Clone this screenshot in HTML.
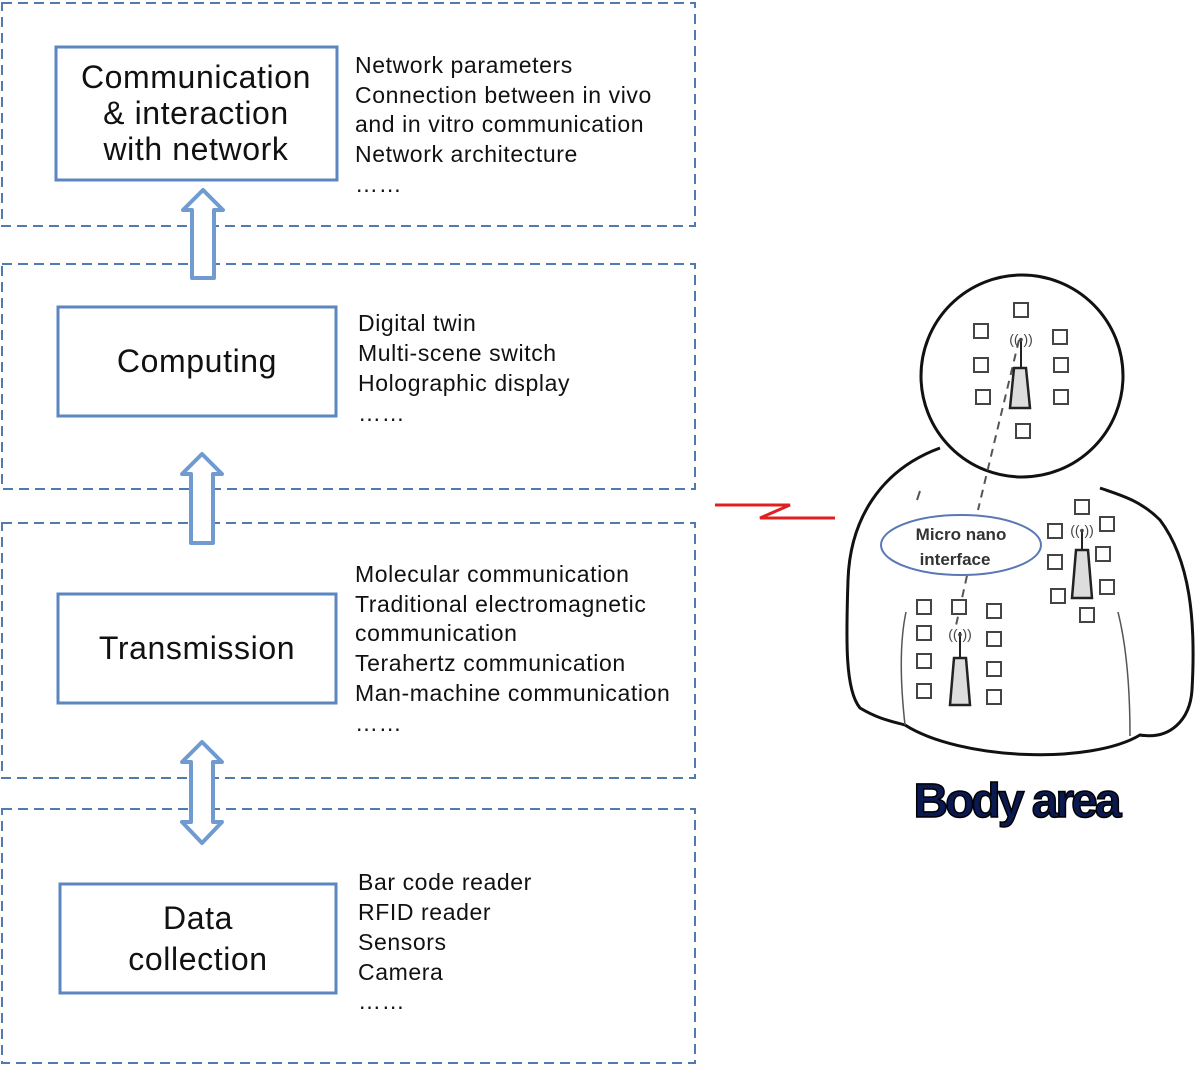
<!DOCTYPE html>
<html><head><meta charset="utf-8"><style>
body{margin:0;background:#fff}
svg text{font-family:"Liberation Sans",sans-serif}
</style></head><body>
<svg width="1200" height="1069" viewBox="0 0 1200 1069" xmlns="http://www.w3.org/2000/svg">
<g fill="none" stroke="#4f7bb0" stroke-width="2" stroke-dasharray="10,6">
<rect x="2" y="3" width="693" height="223"/>
<rect x="2" y="264" width="693" height="225"/>
<rect x="2" y="523" width="693" height="255"/>
<rect x="2" y="809" width="693" height="254"/>
</g>
<g fill="#fff" stroke="#5b86be" stroke-width="3">
<rect x="56" y="47" width="281" height="133"/>
<rect x="58" y="307" width="278" height="109"/>
<rect x="58" y="594" width="278" height="109"/>
<rect x="60" y="884" width="276" height="109"/>
</g>
<g fill="#fff" stroke="#6f9bd1" stroke-width="4" stroke-linejoin="round">
<path d="M192,278 L192,210 L183,210 L203,190 L223,210 L214,210 L214,278 Z"/>
<path d="M191,543 L191,474 L182,474 L202,454 L222,474 L213,474 L213,543 Z"/>
<path d="M202,742 L222,762 L213,762 L213,822 L222,822 L202,843 L182,822 L191,822 L191,762 L182,762 Z"/>
</g>
<g font-size="32" fill="#111" text-anchor="middle" letter-spacing="0.6">
<text x="196" y="88">Communication</text>
<text x="196" y="124">&amp; interaction</text>
<text x="196" y="160">with network</text>
<text x="197" y="372">Computing</text>
<text x="197" y="659">Transmission</text>
<text x="198" y="929">Data</text>
<text x="198" y="970">collection</text>
</g>
<g font-size="23" fill="#111" letter-spacing="0.6">
<text x="355" y="73">Network parameters</text>
<text x="355" y="103">Connection between in vivo</text>
<text x="355" y="132">and in vitro communication</text>
<text x="355" y="162">Network architecture</text>
<text x="355" y="192">……</text>
<text x="358" y="331">Digital twin</text>
<text x="358" y="361">Multi-scene switch</text>
<text x="358" y="391">Holographic display</text>
<text x="358" y="421">……</text>
<text x="355" y="582">Molecular communication</text>
<text x="355" y="612">Traditional electromagnetic</text>
<text x="355" y="641">communication</text>
<text x="355" y="671">Terahertz communication</text>
<text x="355" y="701">Man-machine communication</text>
<text x="355" y="731">……</text>
<text x="358" y="890">Bar code reader</text>
<text x="358" y="920">RFID reader</text>
<text x="358" y="950">Sensors</text>
<text x="358" y="980">Camera</text>
<text x="358" y="1009">……</text>
</g>
<!-- body -->
<g fill="#fff" stroke="#111" stroke-width="3">
<path d="M940,448 C880,470 850,520 848,580 C846,640 845,690 860,708 C880,720 895,722 905,725 C960,760 1090,765 1140,735 C1170,740 1190,720 1192,690 C1196,620 1190,560 1160,520 C1140,500 1120,495 1100,488"/>
<circle cx="1022" cy="376" r="101"/>
</g>
<g stroke="#555" stroke-width="1.5" fill="none">
<path d="M905,725 C900,680 900,640 906,612"/>
<path d="M1130,736 C1130,680 1125,640 1118,612"/>
</g>
<path d="M1019,340 L978,510 M970,562 L955,630" stroke="#555" stroke-width="2" stroke-dasharray="8,6"/>
<path d="M920,491 L917,500" stroke="#555" stroke-width="2"/>
<ellipse cx="961" cy="545" rx="80" ry="30" fill="#fff" stroke="#5a78b5" stroke-width="2"/>
<text x="961" y="540" font-size="17" font-weight="bold" text-anchor="middle" fill="#333">Micro nano</text>
<text x="955" y="565" font-size="17" font-weight="bold" text-anchor="middle" fill="#333">interface</text>
<g fill="#fff" stroke="#444" stroke-width="2">
<rect x="1014" y="303" width="14" height="14"/><rect x="974" y="324" width="14" height="14"/><rect x="974" y="358" width="14" height="14"/><rect x="976" y="390" width="14" height="14"/>
<rect x="1053" y="330" width="14" height="14"/><rect x="1054" y="358" width="14" height="14"/><rect x="1054" y="390" width="14" height="14"/><rect x="1016" y="424" width="14" height="14"/>
<rect x="1075" y="500" width="14" height="14"/><rect x="1048" y="524" width="14" height="14"/><rect x="1100" y="517" width="14" height="14"/><rect x="1048" y="555" width="14" height="14"/><rect x="1096" y="547" width="14" height="14"/><rect x="1051" y="589" width="14" height="14"/><rect x="1100" y="580" width="14" height="14"/><rect x="1080" y="608" width="14" height="14"/>
<rect x="917" y="600" width="14" height="14"/><rect x="952" y="600" width="14" height="14"/><rect x="987" y="604" width="14" height="14"/><rect x="917" y="626" width="14" height="14"/><rect x="987" y="632" width="14" height="14"/><rect x="917" y="654" width="14" height="14"/><rect x="987" y="662" width="14" height="14"/><rect x="917" y="684" width="14" height="14"/><rect x="987" y="690" width="14" height="14"/>
</g>
<g fill="#ddd" stroke="#222" stroke-width="2.5">
<path d="M1014,368 L1026,368 L1030,408 L1010,408 Z"/>
<path d="M1076,550 L1088,550 L1092,598 L1072,598 Z"/>
<path d="M954,658 L966,658 L970,705 L950,705 Z"/>
</g>
<g stroke="#222" stroke-width="2"><path d="M1021,338 V368 M1082,530 V550 M960,632 V658"/></g>
<text x="1021" y="344" font-size="14" text-anchor="middle" fill="#444">((•))</text>
<text x="1082" y="535" font-size="14" text-anchor="middle" fill="#444">((•))</text>
<text x="960" y="639" font-size="14" text-anchor="middle" fill="#444">((•))</text>
<path d="M715,505 L790,505 L760,518 L835,518" fill="none" stroke="#e02020" stroke-width="3"/>
<text x="1016" y="817" font-size="48" font-weight="bold" text-anchor="middle" fill="#0a1a50" letter-spacing="-3" stroke="#000" stroke-width="1.5">Body area</text>
</svg>
</body></html>
